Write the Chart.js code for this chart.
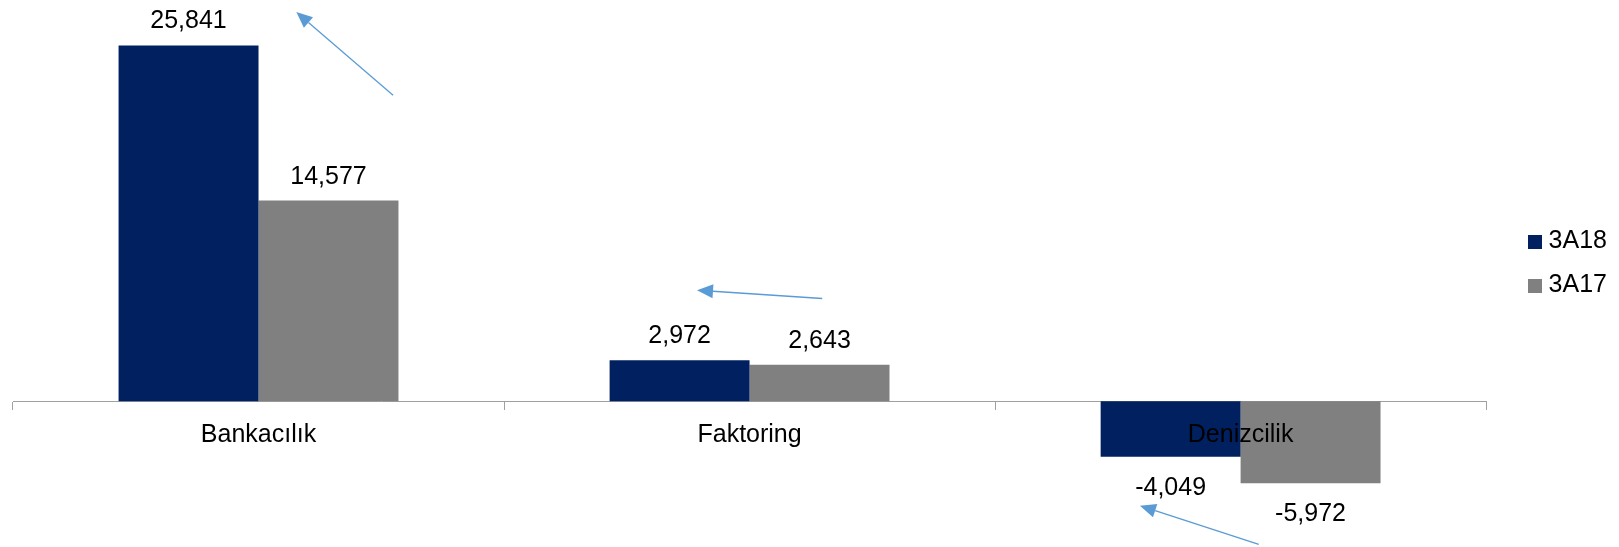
<!DOCTYPE html>
<html>
<head>
<meta charset="utf-8">
<script src="https://cdn.jsdelivr.net/npm/chart.js@4.4.1/dist/chart.umd.min.js"></script>
<style>
  html, body { margin: 0; padding: 0; background: #fff; }
  #wrap { position: relative; width: 1619px; height: 547px; }
</style>
</head>
<body>
<div id="wrap"><canvas id="chart1"></canvas></div>
<script>
var categories = ['Bankacılık', 'Faktoring', 'Denizcilik'];
var seriesNames = ['3A18', '3A17'];
var values3A18 = [25841, 2972, -4049];
var values3A17 = [14577, 2643, -5972];
var seriesColors = ['#002060', '#808080'];
// blue arrows, in data space: [category index, value]
var arrowFrom = [[0.274, 22222], [1.148, 7458], [2.037, -10407]];
var arrowTo = [[0.077, 28272], [0.893, 8061], [1.795, -7603]];

var fontFamily = '"Liberation Sans", Arial, sans-serif';
Chart.defaults.font.family = fontFamily;
Chart.defaults.color = '#000';

// small square swatches for the legend (keeps the gap to the text tight)
function swatch(color) {
  var c = document.createElement('canvas');
  c.width = 14;
  c.height = 14;
  var g = c.getContext('2d');
  g.fillStyle = color;
  g.fillRect(0, 0, 14, 14);
  return c;
}
var swatches = seriesColors.map(swatch);

// value labels above / below bars
var valueLabels = {
  id: 'valueLabels',
  afterDatasetsDraw: function(chart) {
    var ctx = chart.ctx;
    ctx.save();
    ctx.font = '25px ' + fontFamily;
    ctx.fillStyle = '#000';
    ctx.textAlign = 'center';
    ctx.textBaseline = 'alphabetic';
    chart.data.datasets.forEach(function(ds, i) {
      chart.getDatasetMeta(i).data.forEach(function(bar, j) {
        var v = ds.data[j];
        var y = v >= 0 ? bar.y - 17 : bar.y + 38;
        ctx.fillText(v.toLocaleString('en-US'), bar.x, y);
      });
    });
    ctx.restore();
  }
};

// arrows
var arrows = {
  id: 'arrows',
  afterDraw: function(chart) {
    var ctx = chart.ctx, xs = chart.scales.x, ys = chart.scales.y;
    ctx.save();
    ctx.strokeStyle = '#5b9bd5';
    ctx.fillStyle = '#5b9bd5';
    ctx.lineWidth = 1.3;
    arrowFrom.forEach(function(f, k) {
      var t = arrowTo[k];
      var x1 = xs.getPixelForValue(f[0]), y1 = ys.getPixelForValue(f[1]);
      var x2 = xs.getPixelForValue(t[0]), y2 = ys.getPixelForValue(t[1]);
      var a = Math.atan2(y2 - y1, x2 - x1), len = 16, w = 7;
      var bx = x2 - len * Math.cos(a), by = y2 - len * Math.sin(a);
      ctx.beginPath();
      ctx.moveTo(x1, y1);
      ctx.lineTo(bx, by);
      ctx.stroke();
      ctx.beginPath();
      ctx.moveTo(x2, y2);
      ctx.lineTo(bx + w * Math.sin(a), by - w * Math.cos(a));
      ctx.lineTo(bx - w * Math.sin(a), by + w * Math.cos(a));
      ctx.closePath();
      ctx.fill();
    });
    ctx.restore();
  }
};

var ctx = document.getElementById('chart1').getContext('2d');
var myChart = new Chart(ctx, {
  type: 'bar',
  data: {
    labels: categories,
    datasets: [{
      label: seriesNames[0],
      data: values3A18,
      backgroundColor: seriesColors[0],
      borderWidth: 0,
      barPercentage: 1,
      categoryPercentage: 0.57
    },
    {
      label: seriesNames[1],
      data: values3A17,
      backgroundColor: seriesColors[1],
      borderWidth: 0,
      barPercentage: 1,
      categoryPercentage: 0.57
    }]
  },
  options: {
    responsive: true,
    maintainAspectRatio: false,
    animation: false,
    layout: {
      padding: { left: 13, right: 2, top: 2, bottom: 22 }
    },
    plugins: {
      legend: {
        position: 'right',
        labels: {
          usePointStyle: true,
          pointStyleWidth: 2,
          boxHeight: 14,
          padding: 19,
          color: '#000',
          font: { size: 25, family: fontFamily },
          generateLabels: function(chart) {
            var items = Chart.defaults.plugins.legend.labels.generateLabels(chart);
            items.forEach(function(it, i) { it.pointStyle = swatches[i]; });
            return items;
          }
        }
      },
      tooltip: { enabled: false }
    },
    scales: {
      x: {
        position: { y: 0 },
        grid: {
          offset: true,
          drawOnChartArea: false,
          drawTicks: true,
          tickLength: 8,
          color: '#a0a0a0'
        },
        border: { color: '#a0a0a0' },
        ticks: {
          z: 1,
          color: '#000',
          padding: 11,
          font: { size: 25, family: fontFamily }
        }
      },
      y: {
        position: 'right',
        min: -9000,
        max: 29000,
        ticks: { display: false },
        grid: { display: false },
        border: { display: false },
        afterFit: function(s) { s.width = 29; }
      }
    }
  },
  plugins: [valueLabels, arrows]
});
</script>
</body>
</html>
